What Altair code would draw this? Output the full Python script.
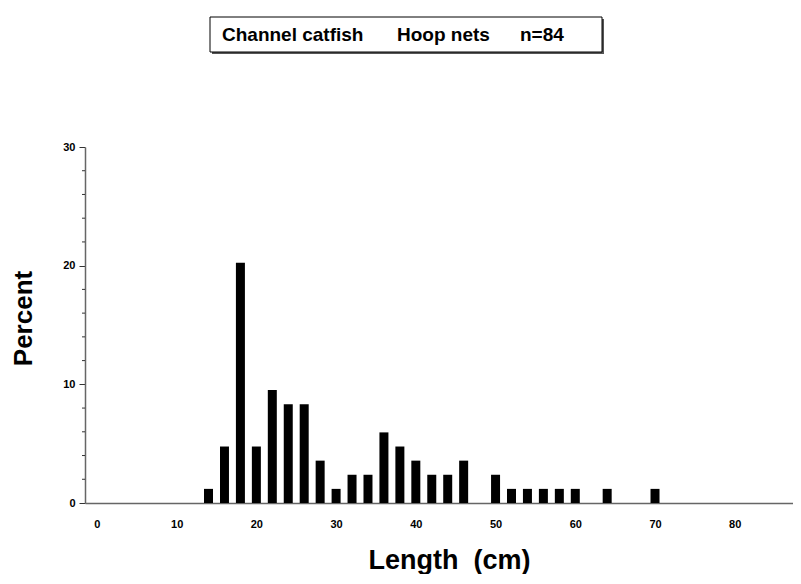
import altair as alt
import pandas as pd

# Data (percent of n=84 fish per 2-cm length class)
lengths = [14, 16, 18, 20, 22, 24, 26, 28, 30, 32, 34, 36, 38, 40, 42, 44, 46,
           50, 52, 54, 56, 58, 60, 64, 70]
percents = [1.19, 4.76, 20.24, 4.76, 9.52, 8.33, 8.33, 3.57, 1.19, 2.38, 2.38,
            5.95, 4.76, 3.57, 2.38, 2.38, 3.57,
            2.38, 1.19, 1.19, 1.19, 1.19, 1.19, 1.19, 1.19]
x_ticks = [0, 10, 20, 30, 40, 50, 60, 70, 80]
y_major = [0, 10, 20, 30]
y_minor = [2, 4, 6, 8, 12, 14, 16, 18, 22, 24, 26, 28]
title_parts = ["Channel catfish", "Hoop nets", "n=84"]

FONT = "Liberation Sans"

df = pd.DataFrame({"length": lengths, "percent": percents})
yscale = alt.Scale(domain=[0, 30], nice=False)

yaxis = alt.Axis(
    values=y_major,
    title="Percent",
    tickSize=6,
    tickColor="#333333",
    tickWidth=1,
    labelPadding=4,
    labelFont=FONT,
    labelFontSize=11,
    labelFontWeight="bold",
    labelColor="black",
    domainColor="#666666",
    domainWidth=1.5,
    grid=False,
    titleFont=FONT,
    titleFontSize=26,
    titleFontWeight="bold",
    titleColor="black",
    titleAngle=270,
    titleX=-62,
    titleY=171,
    titleAlign="center",
    titleBaseline="middle",
)

bars = alt.Chart(df).mark_bar(size=9, color="black").encode(
    x=alt.X(
        "length:Q",
        scale=alt.Scale(domain=[-0.866, 86.68], nice=False, zero=False),
        axis=alt.Axis(
            values=x_ticks,
            title="Length\u00a0\u00a0(cm)",
            ticks=False,
            labelPadding=15,
            labelFont=FONT,
            labelFontSize=11,
            labelFontWeight="bold",
            labelColor="black",
            domainColor="#666666",
            domainWidth=1.5,
            grid=False,
            titleFont=FONT,
            titleFontSize=27,
            titleFontWeight="bold",
            titleColor="black",
            titleX=364,
            titleY=65,
            titleAlign="center",
            titleBaseline="alphabetic",
        ),
    ),
    y=alt.Y("percent:Q", scale=yscale, axis=yaxis),
)

minor = alt.Chart(pd.DataFrame({"percent": y_minor})).mark_rule(color="#333333", strokeWidth=1).encode(
    y=alt.Y("percent:Q", scale=yscale, axis=yaxis),
    x=alt.value(-3),
    x2=alt.value(0),
)

box_df = pd.DataFrame({"k": [0]})
shadow = alt.Chart(box_df).mark_rect(color="#555555").encode(
    x=alt.value(127), x2=alt.value(519), y=alt.value(-128), y2=alt.value(-93)
)
box = alt.Chart(box_df).mark_rect(fill="white", stroke="black", strokeWidth=1).encode(
    x=alt.value(125), x2=alt.value(517), y=alt.value(-130), y2=alt.value(-95)
)

tdf = pd.DataFrame({"t": title_parts, "i": [0, 1, 2]})
text_x = [137, 312, 435]
texts = []
for i, part in enumerate(title_parts):
    texts.append(
        alt.Chart(tdf[tdf.i == i]).mark_text(
            font=FONT, fontSize=19, fontWeight="bold", color="black",
            align="left", baseline="middle",
        ).encode(text="t:N", x=alt.value(text_x[i]), y=alt.value(-112))
    )

chart = alt.layer(shadow, box, *texts, minor, bars).properties(
    width=708,
    height=356,
    autosize=alt.AutoSizeParams(type="none"),
    padding={"left": 77, "top": 139, "right": 0, "bottom": 71},
).configure_view(stroke=None)

chart.save("out.html", embed_options={"renderer": "svg", "actions": False})
